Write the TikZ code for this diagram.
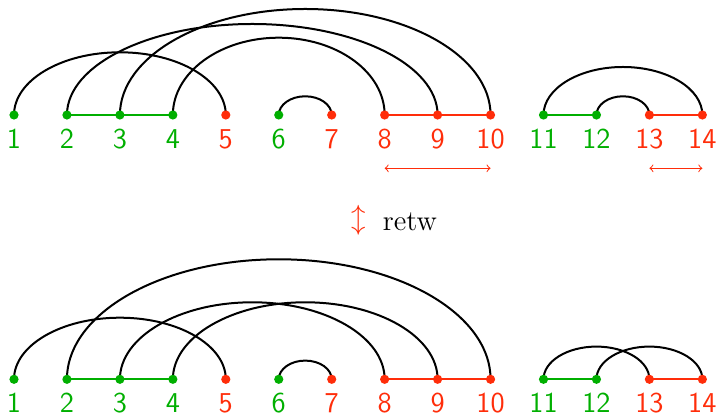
\documentclass[tikz,border=0pt]{standalone}
\usetikzlibrary{backgrounds,calc}
\definecolor{dgreen}{RGB}{0,175,0}
\definecolor{dred}{RGB}{255,45,10}
\begin{document}
\begin{tikzpicture}[x=0.5pt,y=0.5pt,
  dot/.style={circle,inner sep=0pt,minimum size=4.6pt},
  lbl/.style={font=\sffamily\Large,anchor=base,inner sep=0pt},
  arcline/.style={line width=1pt,black},
  gline/.style={line width=0.9pt,dgreen},
  rline/.style={line width=0.9pt,dred},
  harrow/.style={<->,line width=0.5pt,dred}]
\useasboundingbox (0,0) rectangle (717,416);
\foreach \i/\c in {1/dgreen,2/dgreen,3/dgreen,4/dgreen,5/dred,6/dgreen,7/dred,8/dred,9/dred,10/dred,11/dgreen,12/dgreen,13/dred,14/dred} {
  \node[dot,fill=\c] (p\i) at ({14+52.95*(\i-1)},301) {};
  \node[lbl,text=\c] (lp\i) at ({14+52.95*(\i-1)},267) {\i};
  \node[dot,fill=\c] (q\i) at ({14+52.95*(\i-1)},36.7) {};
  \node[lbl,text=\c] (lq\i) at ({14+52.95*(\i-1)},3) {\i};
}
\begin{scope}[on background layer]
  % top arcs
  \draw[arcline] (p1.center) arc[start angle=180,end angle=0,x radius=4*13.2375pt,y radius=31.35pt];
  \draw[arcline] (p2.center) arc[start angle=180,end angle=0,x radius=7*13.2375pt,y radius=45.5pt];
  \draw[arcline] (p3.center) arc[start angle=180,end angle=0,x radius=7*13.2375pt,y radius=53pt];
  \draw[arcline] (p4.center) arc[start angle=180,end angle=0,x radius=4*13.2375pt,y radius=38.65pt];
  \draw[arcline] (p6.center) arc[start angle=180,end angle=0,x radius=1*13.2375pt,y radius=9.35pt];
  \draw[arcline] (p11.center) arc[start angle=180,end angle=0,x radius=3*13.2375pt,y radius=24pt];
  \draw[arcline] (p12.center) arc[start angle=180,end angle=0,x radius=1*13.2375pt,y radius=9.35pt];
  % bottom arcs
  \draw[arcline] (q1.center) arc[start angle=180,end angle=0,x radius=4*13.2375pt,y radius=30.8pt];
  \draw[arcline] (q2.center) arc[start angle=180,end angle=0,x radius=8*13.2375pt,y radius=60pt];
  \draw[arcline] (q3.center) arc[start angle=180,end angle=0,x radius=5*13.2375pt,y radius=38.5pt];
  \draw[arcline] (q4.center) arc[start angle=180,end angle=0,x radius=5*13.2375pt,y radius=38.5pt];
  \draw[arcline] (q6.center) arc[start angle=180,end angle=0,x radius=1*13.2375pt,y radius=9.35pt];
  \draw[arcline] (q11.center) arc[start angle=180,end angle=0,x radius=2*13.2375pt,y radius=16.35pt];
  \draw[arcline] (q12.center) arc[start angle=180,end angle=0,x radius=2*13.2375pt,y radius=16.35pt];
  % coloured links
  \draw[gline] (p2.center) -- (p3.center) -- (p4.center);
  \draw[gline] (p11.center) -- (p12.center);
  \draw[rline] (p8.center) -- (p9.center) -- (p10.center);
  \draw[rline] (p13.center) -- (p14.center);
  \draw[gline] (q2.center) -- (q3.center) -- (q4.center);
  \draw[gline] (q11.center) -- (q12.center);
  \draw[rline] (q8.center) -- (q9.center) -- (q10.center);
  \draw[rline] (q13.center) -- (q14.center);
\end{scope}
\coordinate (a8) at ($(p8.center)+(0,-53.3)$);
\coordinate (a10) at ($(p10.center)+(0,-53.3)$);
\coordinate (a13) at ($(p13.center)+(0,-53.3)$);
\coordinate (a14) at ($(p14.center)+(0,-53.3)$);
\draw[harrow] (a8) -- (a10);
\draw[harrow] (a13) -- (a14);
\node[text=dred,font=\Large,inner sep=0pt] (ud) at (358.3,195.6) {$\updownarrow$};
\node[font=\Large,anchor=base west,inner sep=0pt] (rt) at (382.5,185.3) {retw};
\end{tikzpicture}
\end{document}
